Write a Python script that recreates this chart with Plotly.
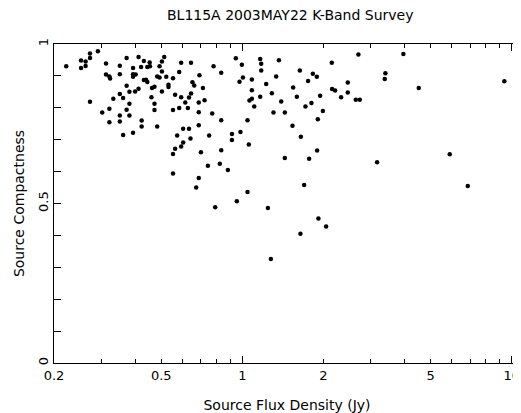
import plotly.graph_objects as go

flux = [
    0.222, 0.252, 0.252, 0.262, 0.262, 0.272, 0.272, 0.291, 0.312, 0.272,
    0.302, 0.321, 0.321, 0.332, 0.312, 0.321, 0.323, 0.351, 0.351, 0.351,
    0.351, 0.351, 0.372, 0.372, 0.361, 0.372, 0.381, 0.381, 0.361, 0.393,
    0.393, 0.393, 0.393, 0.402, 0.400, 0.381, 0.412, 0.412, 0.431, 0.421,
    0.444, 0.453, 0.454, 0.439, 0.444, 0.431, 0.423, 0.423, 0.460, 0.462,
    0.472, 0.472, 0.472, 0.483, 0.483, 0.493, 0.493, 0.503, 0.503, 0.513,
    0.522, 0.532, 0.532, 0.503, 0.553, 0.563, 0.553, 0.583, 0.593, 0.583,
    0.593, 0.614, 0.634, 0.628, 0.645, 0.653, 0.663, 0.693, 0.645, 0.714,
    0.689, 0.724, 0.773, 0.782, 0.689, 0.689, 0.753, 0.702, 0.573, 0.603,
    0.634, 0.642, 0.603, 0.593, 0.563, 0.553, 0.835, 0.835, 0.835, 0.825,
    0.946, 0.996, 0.976, 1.005, 0.915, 0.915, 0.984, 1.045, 1.057, 1.085,
    1.085, 1.063, 1.085, 1.107, 1.165, 1.175, 1.175, 1.165, 1.226, 1.335,
    1.367, 1.287, 1.394, 1.305, 1.438, 1.438, 1.635, 1.544, 1.594, 1.535,
    1.649, 1.754, 1.827, 1.890, 1.715, 1.805, 1.944, 1.990, 1.906, 1.895,
    1.770, 2.148, 2.154, 2.210, 2.326, 2.463, 2.463, 2.637, 2.729, 2.697,
    3.396, 3.378, 3.960, 4.517, 9.385, 5.886, 3.164, 0.553, 0.689, 0.745,
    0.884, 0.674, 1.045, 0.954, 0.793, 1.244, 1.276, 1.696, 6.866, 1.916,
    2.046, 1.643,
]

compactness = [
    0.930, 0.948, 0.925, 0.945, 0.931, 0.970, 0.956, 0.977, 0.939, 0.819,
    0.785, 0.797, 0.755, 0.828, 0.904, 0.898, 0.892, 0.932, 0.905, 0.843,
    0.776, 0.757, 0.956, 0.869, 0.831, 0.794, 0.813, 0.776, 0.715, 0.722,
    0.925, 0.905, 0.897, 0.904, 0.851, 0.850, 0.860, 0.959, 0.947, 0.928,
    0.928, 0.942, 0.930, 0.888, 0.881, 0.887, 0.760, 0.741, 0.833, 0.862,
    0.866, 0.813, 0.793, 0.741, 0.898, 0.895, 0.930, 0.914, 0.945, 0.959,
    0.897, 0.872, 0.865, 0.851, 0.893, 0.841, 0.793, 0.799, 0.833, 0.912,
    0.941, 0.817, 0.832, 0.799, 0.845, 0.880, 0.870, 0.902, 0.941, 0.862,
    0.817, 0.824, 0.782, 0.930, 0.786, 0.745, 0.713, 0.661, 0.713, 0.734,
    0.734, 0.704, 0.691, 0.679, 0.672, 0.655, 0.910, 0.761, 0.667, 0.625,
    0.955, 0.935, 0.882, 0.895, 0.718, 0.699, 0.724, 0.761, 0.685, 0.889,
    0.855, 0.823, 0.828, 0.804, 0.953, 0.938, 0.917, 0.835, 0.875, 0.898,
    0.949, 0.846, 0.820, 0.785, 0.785, 0.643, 0.917, 0.864, 0.835, 0.744,
    0.709, 0.884, 0.907, 0.897, 0.804, 0.815, 0.838, 0.790, 0.764, 0.666,
    0.640, 0.941, 0.859, 0.854, 0.833, 0.879, 0.848, 0.825, 0.825, 0.967,
    0.908, 0.890, 0.969, 0.862, 0.883, 0.654, 0.629, 0.594, 0.580, 0.618,
    0.605, 0.550, 0.536, 0.507, 0.488, 0.486, 0.326, 0.558, 0.555, 0.453,
    0.428, 0.405,
]

x_labels = [0.2, 0.5, 1, 2, 5, 10]
x_label_text = ["0.2", "0.5", "1", "2", "5", "10"]
x_minor = [0.3, 0.4, 0.6, 0.7, 0.8, 0.9, 3, 4, 6, 7, 8, 9]
x_decades = [1, 10]
y_labels = [0, 0.5, 1]
y_label_text = ["0", "0.5", "1"]

x_range = [-0.699, 1.0306]
FONT = "DejaVu Sans, Liberation Sans, sans-serif"

# page body has an 8px margin, so the figure is sized to fit the 521x413 window
W, H = 513, 405

fig = go.Figure()
fig.add_trace(go.Scatter(
    x=flux, y=compactness, mode="markers",
    marker=dict(color="black", size=4.5, line=dict(width=0)),
    showlegend=False, hoverinfo="x+y",
))
fig.add_trace(go.Scatter(x=[1], y=[None], xaxis="x2", mode="markers",
                         showlegend=False, hoverinfo="skip"))

fig.update_layout(
    width=W, height=H,
    margin=dict(l=46, r=1, t=36, b=50, autoexpand=False),
    paper_bgcolor="white", plot_bgcolor="white",
    font=dict(family=FONT, size=13, color="black"),
    title=dict(text="BL115A 2003MAY22 K-Band Survey", x=0.507, xref="paper",
               xanchor="center", y=1 - 7 / H, yanchor="middle",
               font=dict(family=FONT, size=14, color="black")),
    xaxis=dict(
        type="log", range=x_range, showgrid=False, zeroline=False,
        automargin=False,
        showline=True, linecolor="black", linewidth=1, mirror="allticks",
        ticks="inside", ticklen=4, tickwidth=1, tickcolor="black",
        tickmode="array", tickvals=x_labels, ticktext=x_label_text,
        tickfont=dict(size=13),
        minor=dict(tickmode="array", tickvals=x_minor, ticks="inside",
                   ticklen=4, tickcolor="black", showgrid=False),
        title=dict(text="Source Flux Density (Jy)", standoff=20,
                   font=dict(size=14)),
    ),
    xaxis2=dict(
        type="log", range=x_range, overlaying="x", anchor="y",
        automargin=False,
        showgrid=False, zeroline=False, showline=False, mirror="allticks",
        ticks="inside", ticklen=7, tickwidth=1, tickcolor="black",
        tickmode="array", tickvals=x_decades, showticklabels=False,
    ),
    yaxis=dict(
        range=[0, 1], showgrid=False, zeroline=False, automargin=False,
        showline=True, linecolor="black", linewidth=1, mirror="allticks",
        ticks="inside", ticklen=7, tickwidth=1, tickcolor="black",
        tickmode="array", tickvals=y_labels, ticktext=y_label_text,
        tickangle=-90, tickfont=dict(size=13),
        minor=dict(dtick=0.1, tick0=0, ticks="inside", ticklen=4,
                   tickcolor="black", showgrid=False),
        title=dict(text="Source Compactness", standoff=7,
                   font=dict(size=14)),
    ),
)

fig.write_html("out.html")
